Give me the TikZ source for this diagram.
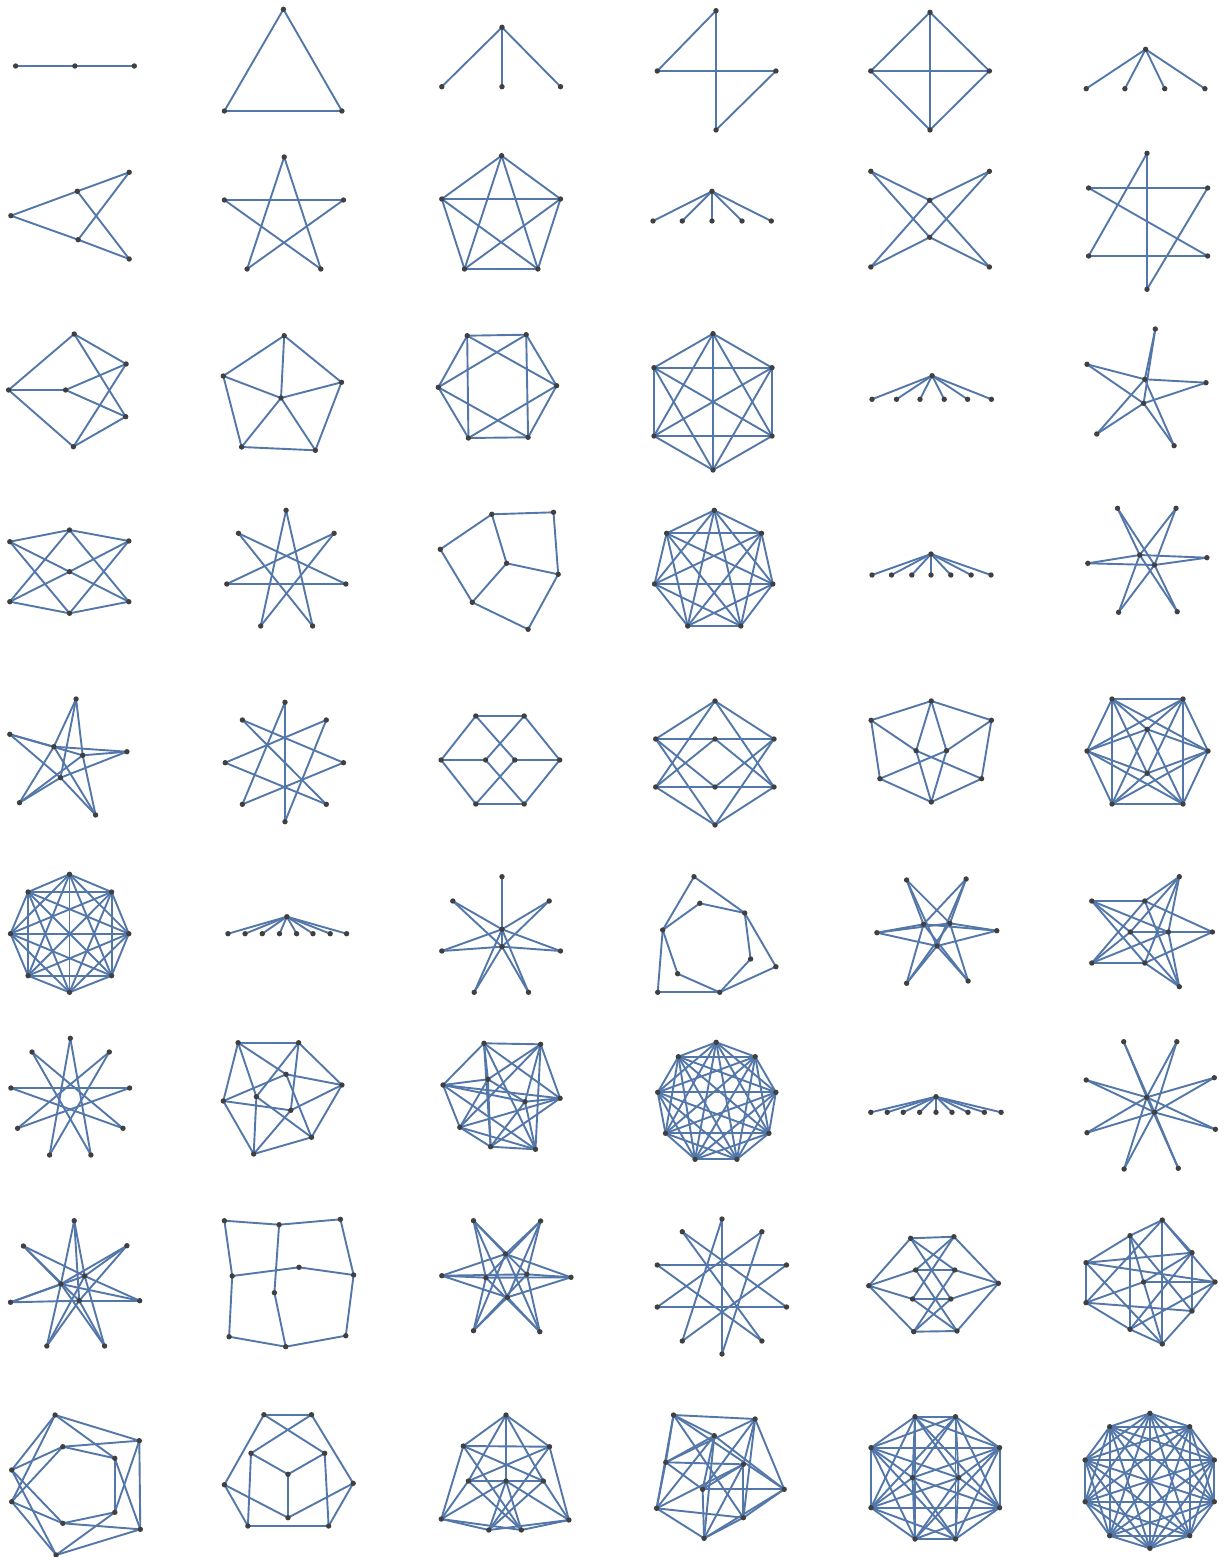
\documentclass[tikz,border=0pt]{standalone}
\usepackage{tikz}
\definecolor{edgec}{RGB}{84,119,170}
\definecolor{vtxc}{RGB}{64,64,64}
\tikzset{edge/.style={draw=edgec,line width=0.95pt}, vtx/.style={fill=vtxc}}
\newcommand\vset[2]{\foreach \n/\x/\y in {#2}{\coordinate (#1-\n) at (\x,\y);}}
\newcommand\eset[2]{\foreach \a/\b in {#2}{\draw[edge] (#1-\a)--(#1-\b);}}
\newcommand\kall[2]{\foreach \i in {1,...,#2}{\foreach \j in {1,...,#2}{\ifnum\i<\j\relax\draw[edge] (#1-\i)--(#1-\j);\fi}}}
\newcommand\kbip[3]{\foreach \a in {#2}{\foreach \b in {#3}{\draw[edge] (#1-\a)--(#1-\b);}}}
\newcommand\vdraw[2]{\foreach \n in {1,...,#2}{\fill[vtx] (#1-\n) circle (1.35pt);}}
\begin{document}
\begin{tikzpicture}[x=0.5pt,y=-0.5pt]
\useasboundingbox (0,0) rectangle (1223,1557);
% ---------- row 1
\vset{a1}{1/15.6/66,2/74.9/66,3/134.3/66}
\eset{a1}{1/2,2/3}\vdraw{a1}{3}
\vset{a2}{1/283.4/9.3,2/224.4/111,3/341.9/111}
\kall{a2}{3}\vdraw{a2}{3}
\vset{a3}{1/502/27.3,2/441.8/86.7,3/502/86.7,4/560.5/86.7}
\kbip{a3}{1}{2,3,4}\vdraw{a3}{4}
\vset{a4}{1/716/10.7,2/657.3/71,3/775.9/71,4/716/130}
\eset{a4}{1/2,2/3,3/4,4/1}\vdraw{a4}{4}
\vset{a5}{1/930/12.3,2/870.8/71,3/989.4/71,4/930/130}
\kall{a5}{4}\vdraw{a5}{4}
\vset{a6}{1/1145.6/49.3,2/1086.2/88.7,3/1124.9/88.7,4/1164.7/88.7,5/1204.9/88.7}
\kbip{a6}{1}{2,3,4,5}\vdraw{a6}{5}
% ---------- row 2
\vset{b1}{1/10.9/215.7,2/77.3/191.3,3/78.1/239.7,4/129.2/172.3,5/129.2/259}
\kbip{b1}{2,3}{1,4,5}\vdraw{b1}{5}
\vset{b2}{1/284.2/157,2/224.4/200,3/343.5/200,4/247.1/269,5/320.8/269}
\eset{b2}{1/4,1/5,2/3,2/5,3/4}\vdraw{b2}{5}
\vset{b3}{1/501.6/155.7,2/441.8/199,3/560.5/199,4/464.5/269,5/537.9/269}
\kall{b3}{5}\vdraw{b3}{5}
\vset{b4}{1/712/191.3,2/653/221,3/682.3/221,4/712/221,5/742/221,6/771.3/221}
\kbip{b4}{1}{2,3,4,5,6}\vdraw{b4}{6}
\vset{b5}{1/870.8/171.3,2/989.4/171.3,3/929.7/200.3,4/929.7/237.3,5/870.8/267,6/989.4/267}
\kbip{b5}{3,4}{1,2,5,6}\vdraw{b5}{6}
\vset{b6}{1/1147/153.3,2/1088.6/188,3/1207.6/188,4/1088.6/256,5/1207.6/256,6/1147/289.3}
\eset{b6}{1/6,2/3,4/5,2/5,1/4,3/6}\vdraw{b6}{6}
% ---------- row 3
\vset{c1}{1/74.2/334,2/8.6/390,3/65.6/390,4/126.1/364,5/125.7/416.7,6/73.4/446.7}
\kbip{c1}{1,3,6}{2,4,5}\vdraw{c1}{6}
\vset{c2}{1/284.2/335.7,2/223.3/376,3/341.5/382.3,4/281/398,5/241.6/447,6/315.4/450.3}
\eset{c2}{1/2,1/3,1/4,2/4,3/4,2/5,3/6,5/6,5/4,6/4}\vdraw{c2}{6}
\vset{c3}{1/467.2/335.7,2/526.2/334.7,3/438.3/387.3,4/556.6/385.7,5/468.4/438,6/528.1/437.3}
\kbip{c3}{1,6}{2,5,3,4}\kbip{c3}{2,5}{3,4}\vdraw{c3}{6}
\vset{c4}{1/713/333.7,2/654/367.7,3/772/367.7,4/654/436,5/772/436,6/713/470}
\kall{c4}{6}\vdraw{c4}{6}
\vset{c5}{1/932.1/375.7,2/872/399.3,3/896.5/399.3,4/920/399.3,5/944.2/399.3,6/967.6/399.3,7/991.4/399.3}
\kbip{c5}{1}{2,3,4,5,6,7}\vdraw{c5}{7}
\vset{c6}{1/1155.3/329,2/1087/364.3,3/1144.8/379.3,4/1206/382.7,5/1143.6/403.3,6/1096.8/434,7/1174.1/445.7}
\kbip{c6}{3,5}{1,2,4,6,7}\vdraw{c6}{7}
% ---------- row 4
\vset{d1}{1/9.8/541.7,2/69.5/530,3/128.8/541,4/69.5/571.7,5/9.8/601.7,6/69.5/613.3,7/128.8/601.7}
\kbip{d1}{2,4,6}{1,3,5,7}\vdraw{d1}{7}
\vset{d2}{1/286.1/510.3,2/238.5/533.3,3/334.1/533.3,4/226.8/584,5/345.8/584,6/260.7/626,7/312.6/626}
\eset{d2}{1/6,1/7,2/5,3/4,4/5,2/7,3/6}\vdraw{d2}{7}
\vset{d3}{1/491.8/514.3,2/553.5/512.3,3/440.3/549.3,4/506.6/563.3,5/558.2/574.3,6/472.3/602.3,7/528.1/629.3}
\eset{d3}{1/2,2/5,1/3,1/4,3/6,4/5,4/6,6/7,5/7}\vdraw{d3}{7}
\vset{d4}{1/714.3/510.3,2/666.6/533.3,3/761.5/533.3,4/654.5/584,5/772.8/584,6/687.7/626,7/740.8/626}
\kall{d4}{7}\vdraw{d4}{7}
\vset{d5}{1/931/554,2/872/575,3/891.5/575,4/911.8/575,5/931/575,6/950.8/575,7/971.1/575,8/991/575}
\kbip{d5}{1}{2,3,4,5,6,7,8}\vdraw{d5}{8}
\vset{d6}{1/1117.5/508.3,2/1176/508.3,3/1087.8/563.3,4/1139.7/555,5/1206.9/557.7,6/1154.5/565,7/1118.6/612.3,8/1177.2/611.7}
\kbip{d6}{4,6}{1,2,3,5,7,8}\vdraw{d6}{8}
% ---------- row 5
\vset{e1}{1/76.1/699,2/9.8/734.3,3/53.9/746.7,4/82.7/755.3,5/126.9/751.7,6/60.5/777.7,7/19.5/802.7,8/95.6/815}
\kbip{e1}{3,4,6}{1,2,5,7,8}\vdraw{e1}{8}
\vset{e2}{1/285/702.3,2/242.4/720,3/326.3/720,4/225.2/762.7,5/343.5/762.7,6/242.4/804.3,7/326.3/804.3,8/285/821.7}
\eset{e2}{1/8,8/3,3/4,4/7,7/2,2/5,5/6,6/1}\vdraw{e2}{8}
\vset{e3}{1/475.8/716,2/524.2/716,3/441.1/760,4/485.6/760,5/514.8/760,6/559.7/760,7/475.8/804,8/524.2/804}
\eset{e3}{1/2,7/8,1/3,3/7,2/6,6/8,3/4,5/6,1/5,2/4,7/5,8/4}\vdraw{e3}{8}
\vset{e4}{1/715/701,2/655.7/739,3/715/739,4/774/739,5/655.7/787,6/715/787,7/774/787,8/715/825}
\kbip{e4}{1,3,6,8}{2,4,5,7}\vdraw{e4}{8}
\vset{e5}{1/931.3/701,2/871.1/720.3,3/991.4/720.3,4/916.1/750.7,5/946.5/750.7,6/879.9/778.7,7/981.6/778.7,8/931.3/802}
\eset{e5}{1/2,1/3,2/6,3/7,6/8,7/8,1/4,1/5,8/4,8/5,2/4,3/5,4/7,5/6}\vdraw{e5}{8}
\vset{e6}{1/1112/699,2/1183/699,3/1147.2/729.3,4/1087/751,5/1208/751,6/1147.2/773.3,7/1112/804,8/1183/804}
\kbip{e6}{1,8}{2,7,4,5,3,6}\kbip{e6}{2,7}{4,5,3,6}\kbip{e6}{4,5}{3,6}\vdraw{e6}{8}
% ---------- row 6
\vset{f1}{1/69.5/874.3,2/28.1/892,3/111.6/892,4/10.5/933.7,5/128.8/933.7,6/28.1/975.7,7/111.6/975.7,8/69.5/992.3}
\kall{f1}{8}\vdraw{f1}{8}
\vset{f2}{1/286.9/916.7,2/228/933.7,3/245.1/933.7,4/262.3/933.7,5/279.5/933.7,6/296.6/933.7,7/313/933.7,8/330.2/933.7,9/346.6/933.7}
\kbip{f2}{1}{2,3,4,5,6,7,8,9}\vdraw{f2}{9}
\vset{f3}{1/502/876.7,2/452.8/901,3/549.2/901,4/502/929.3,5/502/946.7,6/441.8/951,7/560.5/951,8/474.2/992.3,9/528.5/992.3}
\kbip{f3}{4,5}{1,2,3,6,7,8,9}\vdraw{f3}{9}
\vset{f4}{1/694/876.7,2/699.8/903.3,3/744.7/913,4/662.7/930,5/750.6/959,6/775.9/966.7,7/677.6/973.7,8/657.7/992.3,9/719.7/992.3}
\eset{f4}{1/4,1/3,2/3,2/4,4/8,4/7,3/5,3/6,5/9,6/9,7/9,8/9}\vdraw{f4}{9}
\vset{f5}{1/906.6/880,2/966.1/879,3/876.9/932.7,4/923.5/924.3,5/949.9/923.3,6/996.8/930.7,7/937/946,8/906.6/983.3,9/968.1/981}
\kbip{f5}{4,5,7}{1,2,3,6,8,9}\vdraw{f5}{9}
\vset{f6}{1/1179.3/876.7,2/1091.8/901,3/1144.8/901,4/1130.3/932,5/1168.4/932,6/1212.4/932,7/1091.8/963,8/1144.8/963,9/1179.3/986.7}
\kbip{f6}{3,4,5,8}{1,2,6,7,9}\vdraw{f6}{9}
% ---------- row 7
\vset{g1}{1/70.3/1038.3,2/109.3/1052,3/129.6/1088,4/123/1128.3,5/90.9/1155,6/49.6/1155,7/17.6/1128.3,8/10.9/1088,9/32/1052}
\eset{g1}{1/5,5/9,9/4,4/8,8/3,3/7,7/2,2/6,6/1}\vdraw{g1}{9}
\vset{g2}{1/238.1/1042.7,2/298.6/1042.7,3/286.1/1074.3,4/341.9/1085,5/223.3/1101,6/256.4/1096.7,7/290.8/1110.3,8/311.5/1137.3,9/253.7/1154}
\eset{g2}{1/2,1/5,1/6,1/3,2/4,2/6,2/7,4/8,4/3,4/7,8/9,8/3,8/6,9/5,9/6,9/7,5/3,5/7}\vdraw{g2}{9}
\vset{g3}{1/484/1043.3,2/540.6/1044.3,3/443/1085,4/487.9/1079.3,5/560.1/1098.3,6/525/1101.7,7/459.8/1127.3,8/490.6/1146.7,9/535.5/1149.3}
\kbip{g3}{1,6,7}{2,3,8,4,5,9}\kbip{g3}{2,3,8}{4,5,9}\vdraw{g3}{9}
\vset{g4}{1/716.2/1042.3,2/678.4/1056.7,3/755.2/1056.7,4/657.7/1092.3,5/775.9/1092.3,6/665.5/1133.3,7/768.9/1133.3,8/695.1/1159.3,9/736.9/1159.3}
\kall{g4}{9}\vdraw{g4}{9}
\vset{g5}{1/936/1096.7,2/870.8/1112.3,3/887.2/1112.3,4/903.2/1112.3,5/919.6/1112.3,6/936/1112.3,7/952/1112.3,8/968/1112.3,9/984.4/1112.3,10/1001.1/1112.3}
\kbip{g5}{1}{2,3,4,5,6,7,8,9,10}\vdraw{g5}{10}
\vset{g6}{1/1123.7/1041.7,2/1176.8/1041.7,3/1086.2/1080,4/1214.3/1077.7,5/1146.7/1097.3,6/1154.5/1112.3,7/1087/1132.7,8/1215.4/1129.3,9/1124.1/1169,10/1178.3/1168.3}
\kbip{g6}{5,6}{1,2,3,4,7,8,9,10}\vdraw{g6}{10}
% ---------- row 8
\vset{h1}{1/74.2/1220.7,2/23.4/1246,3/126.9/1245.7,4/60.9/1284,5/84.7/1276,6/79.2/1300.7,7/10.5/1302.3,8/139.7/1300.7,9/46.8/1346,10/104.6/1346}
\kbip{h1}{4,5,6}{1,2,3,7,8,9,10}\vdraw{h1}{10}
\vset{h2}{1/224.4/1220.7,2/279.1/1224.7,3/340.4/1219.3,4/299/1267.3,5/232.2/1276,6/353.6/1275,7/274.4/1292.7,8/229.1/1336.7,9/285.7/1346.7,10/345.8/1335.7}
\eset{h2}{1/2,2/3,1/5,3/6,5/4,4/6,2/7,5/8,6/10,8/9,9/10,7/9}\vdraw{h2}{10}
\vset{h3}{1/473.5/1220.7,2/540.6/1221,3/505.5/1254,4/441.8/1275.7,5/485.9/1277.7,6/526.9/1274.3,7/571/1277.3,8/507.4/1297.3,9/473.5/1330.7,10/539.8/1331.7}
\kbip{h3}{3,5,6,8}{1,2,4,7,9,10}\vdraw{h3}{10}
\vset{h4}{1/722/1219,2/682.3/1231.7,3/761.9/1231.7,4/657.3/1265,5/786.5/1265,6/657.3/1307,7/786.5/1307,8/682.3/1341,9/761.9/1341,10/722/1354}
\eset{h4}{1/10,10/3,3/6,6/7,7/2,2/9,9/4,4/5,5/8,8/1}\vdraw{h4}{10}
\vset{h5}{1/910.6/1238.3,2/953.9/1236.7,3/868.8/1285.7,4/915.7/1270,5/954.7/1270,6/998.4/1283.3,7/912.5/1299,8/950.8/1299,9/913.7/1331.7,10/957/1331}
\eset{h5}{3/1,3/4,3/7,3/9,6/2,6/5,6/8,6/10,2/1,2/4,2/7,5/1,5/4,5/9,8/1,8/7,8/9,10/4,10/7,10/9}\vdraw{h5}{10}
\vset{h6}{1/1162.3/1220,2/1130/1235.7,3/1192/1252.7,4/1086/1262.7,5/1143.6/1282,6/1215/1282,7/1086/1302.7,8/1192/1311,9/1130/1329.3,10/1162.3/1344}
\kbip{h6}{1,4,5,8,9}{2,3,6,7,10}\vdraw{h6}{10}
% ---------- row 9
\vset{i1}{1/55.1/1415,2/139.3/1440.7,3/62.8/1446.7,4/114.8/1458.3,5/11.7/1470,6/11.7/1501.7,7/114.8/1512.3,8/62.8/1523.3,9/140.3/1529.3,10/56.1/1555}
\kbip{i1}{1,3}{2,4}\kbip{i1}{2,4}{9,7}\kbip{i1}{9,7}{10,8}\kbip{i1}{10,8}{5,6}\kbip{i1}{5,6}{1,3}\vdraw{i1}{10}
\vset{i2}{1/263.9/1414.7,2/311.5/1414.7,3/251/1453.3,4/324.7/1453.3,5/224.4/1484.7,6/288/1474.3,7/353.2/1483.3,8/288/1517.7,9/247.9/1526,10/328.6/1526}
\eset{i2}{1/2,1/4,2/3,1/5,2/7,3/6,4/6,6/8,3/9,4/10,9/10,5/9,7/10,5/8,7/8}\vdraw{i2}{10}
\vset{i3}{1/506/1415,2/463.3/1446,3/549.5/1446.7,4/468.4/1481,5/506/1481,6/543.4/1481,7/441.3/1519,8/568.9/1520,9/488.8/1530,10/521.4/1530}
\eset{i3}{1/2,1/3,1/5,1/4,1/6,2/3,2/7,3/8,4/5,5/6,4/7,6/8,7/9,10/8,7/10,9/8,2/6,3/4,2/10,3/9,5/9,5/10,5/7,5/8,4/10,6/9}\vdraw{i3}{10}
\vset{i4}{1/673.5/1415,2/755.1/1419,3/714.3/1435.7,4/665.8/1462.3,5/743.4/1464.3,6/702.6/1489.3,7/784.2/1489.3,8/656.6/1508.3,9/743.4/1517.7,10/704.1/1538.3}
\eset{i4}{2/4,2/5,2/6,4/5,4/6,5/6,1/3,1/4,1/8,3/4,3/8,4/8,3/6,3/7,3/10,6/7,6/10,7/10,1/2,1/7,1/9,2/7,2/9,7/9,5/8,5/10,5/9,8/10,8/9,10/9}\vdraw{i4}{10}
\vset{i5}{1/915/1416.7,2/955.5/1416.7,3/871/1447.7,4/999.6/1447.7,5/912.5/1477.7,6/958.6/1477.7,7/871/1507.7,8/999.6/1507.7,9/915/1539,10/955.5/1539}
\kbip{i5}{1,10}{2,9,3,8,4,7,5,6}\kbip{i5}{2,9}{3,8,4,7,5,6}\kbip{i5}{3,8}{4,7,5,6}\kbip{i5}{4,7}{5,6}\vdraw{i5}{10}
\vset{i6}{1/1149.9/1413.3,2/1109.7/1426.7,3/1189.7/1426.7,4/1085.1/1460,5/1214.3/1460,6/1085.1/1501.7,7/1214.3/1501.7,8/1109.7/1535.7,9/1189.7/1535.7,10/1149.9/1548.3}
\kall{i6}{10}\vdraw{i6}{10}
\end{tikzpicture}
\end{document}
